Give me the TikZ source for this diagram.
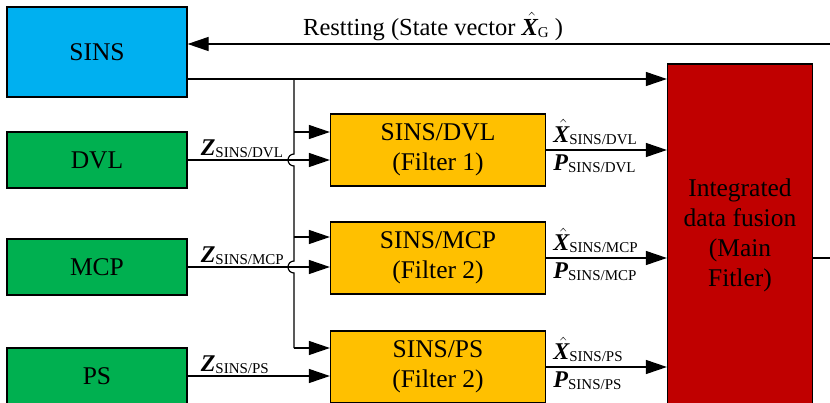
\documentclass[tikz,border=0pt]{standalone}
\usepackage{fontspec}
\setmainfont{Liberation Serif}
\usetikzlibrary{arrows.meta}

\definecolor{sinsblue}{RGB}{0,176,240}
\definecolor{sensgreen}{RGB}{0,176,80}
\definecolor{filtorange}{RGB}{255,192,0}
\definecolor{mainred}{RGB}{192,0,0}

\newcommand{\lowidx}[1]{\raisebox{-2pt}{\fontsize{15}{15}\selectfont #1}}
\newcommand{\hatX}{$\skew{3}{\hat}{\mbox{\bfseries\itshape X}}$}

\begin{document}
\begin{tikzpicture}[x=1pt, y=-1pt,
	box/.style={draw, line width=1.2pt, inner sep=0pt, align=center, font=\fontsize{25.5}{30}\selectfont},
	sensor/.style={box, fill=sensgreen, minimum width=180pt, minimum height=56pt},
	filt/.style={box, fill=filtorange, minimum width=215pt, minimum height=72pt},
	ln/.style={line width=1.2pt},
	arr/.style={ln, -{Triangle[length=21pt, width=14pt]}},
	lab/.style={inner sep=0pt, anchor=base west, font=\fontsize{24}{24}\selectfont}]
	\useasboundingbox (0,0) rectangle (830,402);
	\clip (0,0) rectangle (830,402);

	\node[box, fill=sinsblue, minimum width=180pt, minimum height=90pt] (sins) at (97,52) {SINS};
	\node[sensor] (dvl) at (97,160) {DVL};
	\node[sensor] (mcp) at (97,267) {MCP};
	\node[sensor] (ps) at (97,376) {PS};
	\node[filt] (f1) at (438,150) {SINS/DVL\\(Filter 1)};
	\node[filt] (f2) at (438,258) {SINS/MCP\\(Filter 2)};
	\node[filt] (f3) at (438,367) {SINS/PS\\(Filter 2)};
	\node[box, fill=mainred, minimum width=145pt, minimum height=342pt] (main) at (740,235) {Integrated\\data fusion\\(Main\\Fitler)};

	\coordinate (rin) at (830,44);
	\coordinate (sout) at (187,79);
	\coordinate (bus) at (294,79);
	\coordinate (j1) at (294,132);
	\coordinate (j2) at (294,237);
	\coordinate (j3) at (294,348);
	\coordinate (mout) at (830,258);

	% resetting loop
	\draw[arr] (rin) -- (rin -| sins.east);
	\node[lab, font=\fontsize{24.5}{24}\selectfont] (reset) at (303,35) {Restting (State vector \hatX\lowidx{G} )};
	\draw[arr] (sout) -- (sout -| main.west);

	% SINS bus with jumps
	\draw[ln] (bus) -- (294,154) arc[start angle=90, end angle=270, radius=6pt] -- (294,261) arc[start angle=90, end angle=270, radius=6pt] -- (j3);
	\draw[arr] (j1) -- (j1 -| f1.west);
	\draw[arr] (j2) -- (j2 -| f2.west);
	\draw[arr] (j3) -- (j3 -| f3.west);

	% measurements
	\draw[arr] (dvl.east) -- (dvl.east -| f1.west);
	\draw[arr] (mcp.east) -- (mcp.east -| f2.west);
	\draw[arr] (ps.east) -- (ps.east -| f3.west);
	\node[lab] (zdvl) at ([shift={(13,-5)}]dvl.east) {\textbf{\textit{Z}}\lowidx{SINS/DVL}};
	\node[lab] (zmcp) at ([shift={(13,-5)}]mcp.east) {\textbf{\textit{Z}}\lowidx{SINS/MCP}};
	\node[lab] (zps) at ([shift={(13,-5)}]ps.east) {\textbf{\textit{Z}}\lowidx{SINS/PS}};

	% filter outputs
	\draw[arr] (f1.east) -- (f1.east -| main.west);
	\draw[arr] (f2.east) -- (f2.east -| main.west);
	\draw[arr] (f3.east) -- (f3.east -| main.west);
	\node[lab] (xdvl) at ([shift={(7,-8)}]f1.east) {\hatX\lowidx{SINS/DVL}};
	\node[lab] (pdvl) at ([shift={(7,20)}]f1.east) {\textbf{\textit{P}}\lowidx{SINS/DVL}};
	\node[lab] (xmcp) at ([shift={(7,-8)}]f2.east) {\hatX\lowidx{SINS/MCP}};
	\node[lab] (pmcp) at ([shift={(7,20)}]f2.east) {\textbf{\textit{P}}\lowidx{SINS/MCP}};
	\node[lab] (xps) at ([shift={(7,-8)}]f3.east) {\hatX\lowidx{SINS/PS}};
	\node[lab] (pps) at ([shift={(7,20)}]f3.east) {\textbf{\textit{P}}\lowidx{SINS/PS}};

	\draw[ln] (mout -| main.east) -- (mout);
\end{tikzpicture}
\end{document}
